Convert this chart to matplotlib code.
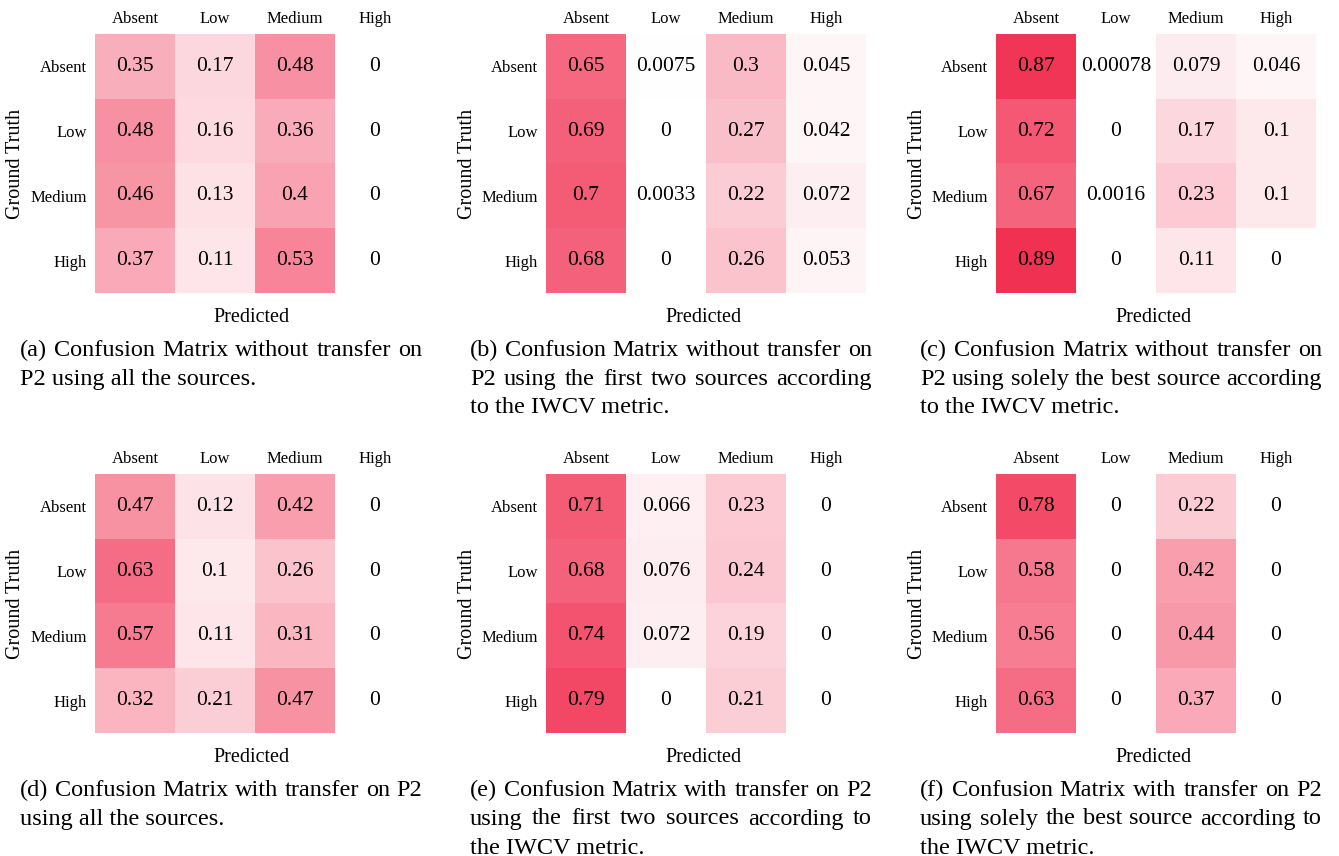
import numpy as np
import matplotlib
matplotlib.use("Agg")
import matplotlib.pyplot as plt
from matplotlib.colors import LinearSegmentedColormap

plt.rcParams["font.family"] = ["Liberation Serif", "DejaVu Serif"]

CLASSES = ["Absent", "Low", "Medium", "High"]

CM_A = [[0.35, 0.17, 0.48, 0], [0.48, 0.16, 0.36, 0],
        [0.46, 0.13, 0.4, 0], [0.37, 0.11, 0.53, 0]]
CM_B = [[0.65, 0.0075, 0.3, 0.045], [0.69, 0, 0.27, 0.042],
        [0.7, 0.0033, 0.22, 0.072], [0.68, 0, 0.26, 0.053]]
CM_C = [[0.87, 0.00078, 0.079, 0.046], [0.72, 0, 0.17, 0.1],
        [0.67, 0.0016, 0.23, 0.1], [0.89, 0, 0.11, 0]]
CM_D = [[0.47, 0.12, 0.42, 0], [0.63, 0.1, 0.26, 0],
        [0.57, 0.11, 0.31, 0], [0.32, 0.21, 0.47, 0]]
CM_E = [[0.71, 0.066, 0.23, 0], [0.68, 0.076, 0.24, 0],
        [0.74, 0.072, 0.19, 0], [0.79, 0, 0.21, 0]]
CM_F = [[0.78, 0, 0.22, 0], [0.58, 0, 0.42, 0],
        [0.56, 0, 0.44, 0], [0.63, 0, 0.37, 0]]

CAP_A = ["(a) Confusion Matrix without transfer on", "P2 using all the sources."]
CAP_B = ["(b) Confusion Matrix without transfer on",
         "P2 using the first two sources according", "to the IWCV metric."]
CAP_C = ["(c) Confusion Matrix without transfer on",
         "P2 using solely the best source according", "to the IWCV metric."]
CAP_D = ["(d) Confusion Matrix with transfer on P2", "using all the sources."]
CAP_E = ["(e) Confusion Matrix with transfer on P2",
         "using the first two sources according to", "the IWCV metric."]
CAP_F = ["(f) Confusion Matrix with transfer on P2",
         "using solely the best source according to", "the IWCV metric."]

W, H = 1339, 856
HM_X = [95, 546, 996]        # left edge of heatmap (px)
HM_TOP = [34, 474]           # top edge of heatmap (px)
HM_W, HM_H = 320, 259
CAP_X = [20, 470, 920]
CAP_W = 402
LINE_H = 29
CAP_FS = 17.5

cmap = LinearSegmentedColormap.from_list("pinkred", ["#ffffff", "#f0183d"])

fig = plt.figure(figsize=(W / 100, H / 100), dpi=100, facecolor="white")


def fx(x):
    return x / W


def fy(y):
    return 1 - y / H


def justified(lines, x0, y0, renderer):
    for k, line in enumerate(lines):
        y = y0 + k * LINE_H
        words = line.split(" ")
        if k == len(lines) - 1:
            fig.text(fx(x0), fy(y), line, fontsize=CAP_FS, ha="left", va="center")
            continue
        texts = [fig.text(0, fy(y), w, fontsize=CAP_FS, ha="left", va="center")
                 for w in words]
        widths = [t.get_window_extent(renderer).width for t in texts]
        gap = (CAP_W - sum(widths)) / (len(words) - 1)
        x = x0
        for t, w in zip(texts, widths):
            t.set_x(fx(x))
            x += w + gap


def panel(cm, caption, col, row, renderer):
    cm = np.array(cm)
    left, top = HM_X[col], HM_TOP[row]
    ax = fig.add_axes([fx(left), fy(top + HM_H), HM_W / W, HM_H / H])
    ax.imshow(cm, cmap=cmap, vmin=0, vmax=1, aspect="auto",
              extent=(0, 4, 4, 0), interpolation="nearest")
    for i in range(4):
        for j in range(4):
            ax.text(j + 0.5, i + 0.5, format(cm[i, j], ".2g"),
                    ha="center", va="center", fontsize=15.5)
    ax.set_xticks(np.arange(4) + 0.5)
    ax.set_yticks(np.arange(4) + 0.5)
    ax.set_xticklabels(CLASSES, fontsize=12)
    ax.set_yticklabels(CLASSES, fontsize=12)
    ax.xaxis.tick_top()
    ax.tick_params(axis="x", length=0, pad=5)
    ax.tick_params(axis="y", length=0, pad=6)
    for s in ax.spines.values():
        s.set_visible(False)
    fig.text(fx(left - 79), fy(top + HM_H / 2), "Ground Truth", rotation=90,
             fontsize=14.5, ha="center", va="center")
    fig.text(fx(left + HM_W / 2 - 3), fy(top + HM_H + 24), "Predicted",
             fontsize=14.5, ha="center", va="center")
    justified(caption, CAP_X[col], top + HM_H + 57, renderer)


renderer = fig.canvas.get_renderer()
panel(CM_A, CAP_A, 0, 0, renderer)
panel(CM_B, CAP_B, 1, 0, renderer)
panel(CM_C, CAP_C, 2, 0, renderer)
panel(CM_D, CAP_D, 0, 1, renderer)
panel(CM_E, CAP_E, 1, 1, renderer)
panel(CM_F, CAP_F, 2, 1, renderer)

fig.savefig("out.png", dpi=100, facecolor="white")
